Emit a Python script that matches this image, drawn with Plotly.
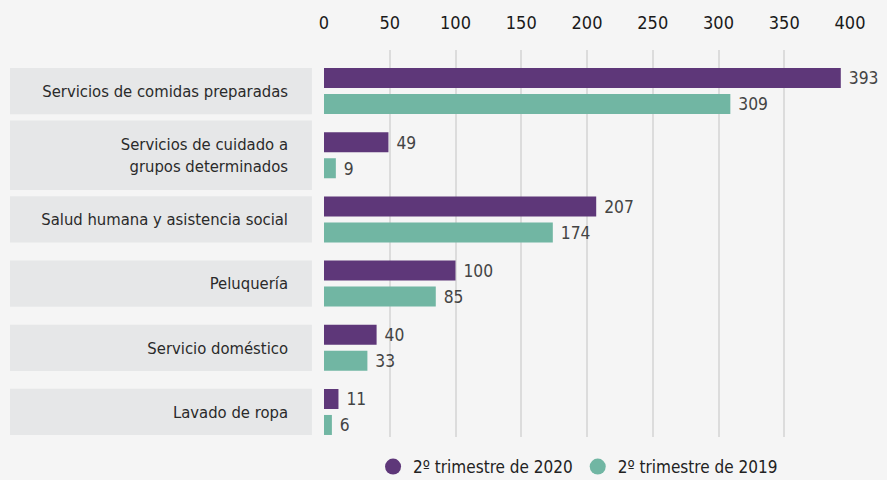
import plotly.graph_objects as go

categories = [
    "Servicios de comidas preparadas",
    "Servicios de cuidado a<br>grupos determinados",
    "Salud humana y asistencia social",
    "Peluquería",
    "Servicio doméstico",
    "Lavado de ropa",
]
q2_2020 = [393, 49, 207, 100, 40, 11]
q2_2019 = [309, 9, 174, 85, 33, 6]
series_names = ["2º trimestre de 2020", "2º trimestre de 2019"]
x_ticks = [0, 50, 100, 150, 200, 250, 300, 350, 400]

PURPLE = "#5e3779"
TEAL = "#71b6a3"
FONT = "DejaVu Sans Condensed, sans-serif"

fig = go.Figure()
for name, vals, color in [(series_names[0], q2_2020, PURPLE), (series_names[1], q2_2019, TEAL)]:
    fig.add_trace(go.Bar(
        x=vals, y=categories, orientation="h", name=name,
        marker=dict(color=color, line=dict(width=0)),
        text=vals, texttemplate="\u00a0%{x}", textposition="outside",
        textfont=dict(size=19, color="#444444", family=FONT),
        cliponaxis=False, showlegend=False,
    ))
    fig.add_trace(go.Scatter(
        x=[None], y=[None], mode="markers", name=name,
        marker=dict(color=color, size=20, symbol="circle"),
    ))

# grey label boxes behind category names
shapes = []
for i, cat in enumerate(categories):
    half = 0.54 if "<br>" in cat else 0.36
    shapes.append(dict(
        type="rect", xref="paper", yref="y", layer="below",
        x0=-0.597, x1=-0.023, y0=i - half, y1=i + half,
        fillcolor="#e6e7e8", line=dict(width=0),
    ))

fig.update_layout(
    width=887, height=480,
    margin=dict(l=324, r=37, t=50, b=43, autoexpand=False),
    paper_bgcolor="#f5f5f5", plot_bgcolor="#f5f5f5",
    font=dict(family=FONT, color="#222222"),
    barmode="group", bargap=0.19, bargroupgap=0.23,
    shapes=shapes,
    xaxis=dict(
        side="top", range=[0, 400], tickvals=x_ticks,
        showgrid=True, gridcolor="#dcdcdc", gridwidth=1.5,
        zeroline=False, showline=False, ticks="",
        tickfont=dict(size=18, color="#1a1a1a"), ticklabelstandoff=16,
    ),
    yaxis=dict(
        range=[5.39, -0.64], showgrid=False, zeroline=False, ticks="",
        tickfont=dict(size=16.5, color="#2a2a2a"), ticklabelstandoff=35,
    ),
    legend=dict(
        orientation="h", x=0.483, xanchor="center",
        yref="container", y=0.027, yanchor="middle",
        font=dict(size=17, color="#222222"), itemsizing="trace",
        bgcolor="rgba(0,0,0,0)",
    ),
)

fig.write_html(
    "out.html",
    config={"displayModeBar": False},
    post_script="document.body.style.margin='0';",
)
